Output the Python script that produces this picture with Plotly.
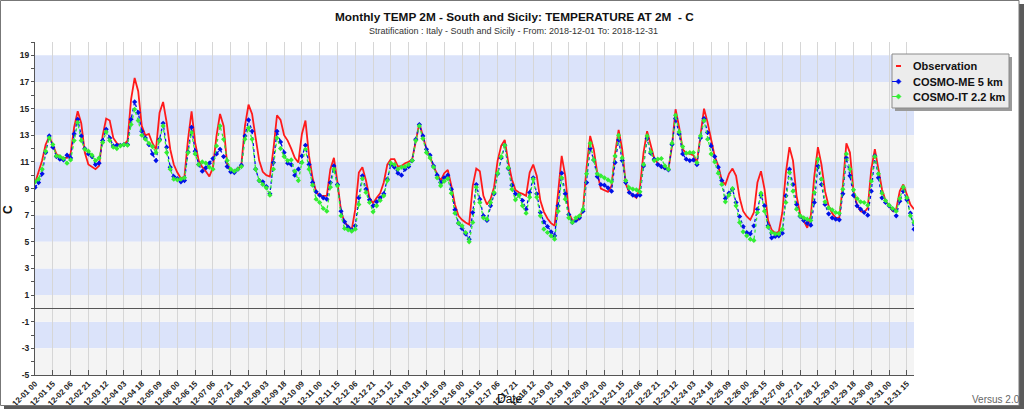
import pandas as pd
import plotly.graph_objects as go

# ---------------- data ----------------
start = "2018-12-01 00:00"
n_points = 248  # 3-hourly, whole December
times = pd.date_range(start, periods=n_points, freq="3h")

observation = [
    9.4, 10.2, 11.1, 12.3, 12.9, 12.3, 11.6, 11.4,
    11.3, 11.3, 11.6, 13.6, 14.8, 13.9, 11.7, 10.8,
    10.6, 10.45, 10.7, 12.95, 14.25, 14.1, 12.8, 12.4,
    12.25, 12.3, 12.6, 15.7, 17.3, 16.3, 13.7, 13.0,
    13.1, 12.4, 11.95, 14.7, 15.5, 13.95, 11.95, 10.8,
    10.2, 9.75, 9.9, 12.7, 14.8, 12.45, 11.1, 10.6,
    10.3, 9.9, 10.6, 12.95, 14.6, 13.7, 10.8, 10.3,
    10.3, 10.45, 10.8, 13.7, 15.3, 14.6, 12.8, 11.1,
    10.25, 10.0, 9.9, 11.95, 14.5, 14.15, 13.0, 12.6,
    12.0, 11.3, 10.95, 13.1, 14.1, 11.45, 9.8, 8.75,
    8.45, 8.45, 8.45, 10.45, 11.3, 9.45, 7.3, 6.45,
    6.15, 5.9, 7.45, 10.2, 10.6, 9.6, 8.3, 7.9,
    8.3, 8.65, 9.45, 10.8, 11.2, 11.2, 10.65, 10.7,
    10.9, 11.0, 11.2, 12.6, 13.9, 12.95, 11.95, 11.4,
    10.65, 10.1, 9.6, 10.15, 10.4, 9.2, 7.8, 6.95,
    6.65, 6.45, 6.3, 9.2, 10.5, 10.3, 8.45, 7.8,
    8.2, 9.1, 11.1, 12.2, 12.65, 10.95, 9.7, 8.9,
    8.7, 8.6, 8.45, 10.2, 10.8, 9.95, 8.1, 7.25,
    6.75, 6.4, 6.2, 8.7, 11.45, 9.95, 7.2, 6.6,
    6.6, 6.7, 7.5, 10.6, 12.95, 11.95, 10.15, 9.0,
    8.9, 8.75, 9.2, 11.6, 13.4, 11.95, 9.35, 8.7,
    8.5, 8.3, 9.1, 11.7, 13.3, 12.3, 11.25, 10.9,
    10.65, 10.45, 10.45, 12.2, 14.95, 13.6, 11.95, 11.65,
    11.6, 11.5, 10.95, 13.2, 15.0, 13.95, 12.6, 11.4,
    10.7, 9.6, 9.3, 10.1, 10.5, 9.95, 8.3, 7.3,
    6.9, 6.65, 7.2, 9.45, 10.3, 8.95, 6.6, 5.9,
    5.65, 5.75, 7.2, 10.2, 12.1, 11.1, 8.45, 7.1,
    6.6, 6.05, 6.95, 9.95, 12.1, 10.8, 8.8, 7.7,
    7.15, 6.8, 6.8, 9.2, 12.4, 11.7, 8.8, 7.8,
    7.3, 7.2, 7.55, 10.45, 11.95, 10.45, 8.95, 8.1,
    7.7, 7.3, 7.45, 8.8, 9.3, 8.5, 7.8, 7.45,
]

cosmo_me = [
    9.08, 9.45, 10.1, 11.7, 12.95, 12.1, 11.4, 11.2,
    11.15, 11.5, 11.3, 13.1, 14.2, 12.95, 12.0, 11.6,
    11.4, 10.8, 10.9, 12.6, 13.45, 12.8, 12.2, 12.25,
    12.25, 12.3, 12.3, 14.2, 15.5, 14.7, 13.3, 12.8,
    12.3, 11.6, 11.1, 12.7, 13.9, 12.1, 10.6, 9.9,
    9.75, 9.5, 9.6, 11.75, 13.6, 11.8, 10.8, 10.3,
    10.55, 10.9, 11.25, 11.6, 11.95, 11.4, 10.65, 10.25,
    10.2, 10.45, 10.75, 12.95, 14.15, 13.3, 10.45, 9.6,
    9.5, 9.15, 8.6, 10.95, 13.3, 12.5, 11.7, 10.9,
    10.8, 10.0, 10.45, 11.45, 12.25, 10.8, 9.45, 8.75,
    8.5, 8.3, 8.2, 9.45, 10.7, 9.3, 7.3, 6.5,
    6.1, 5.9, 6.2, 8.3, 9.95, 8.95, 8.15, 7.7,
    8.0, 8.3, 8.6, 9.7, 10.8, 10.6, 10.15, 10.0,
    10.45, 10.65, 11.1, 12.7, 13.8, 12.95, 11.95, 11.5,
    10.7, 10.0, 9.45, 9.8, 10.0, 8.95, 7.4, 6.4,
    6.0, 5.6, 5.2, 7.2, 9.3, 8.2, 6.95, 6.6,
    7.7, 8.6, 10.1, 11.3, 12.25, 10.5, 9.25, 8.6,
    8.5, 8.1, 7.45, 8.7, 9.8, 8.6, 7.2, 6.5,
    6.15, 5.75, 5.45, 7.7, 10.15, 8.6, 7.05, 6.45,
    6.6, 6.8, 7.3, 9.45, 12.0, 11.15, 9.9, 9.3,
    9.25, 9.05, 8.8, 10.95, 12.65, 11.1, 9.45, 8.7,
    8.5, 8.45, 8.5, 10.7, 12.75, 11.65, 11.2, 10.8,
    10.65, 10.55, 10.4, 12.3, 14.25, 13.1, 11.6, 11.2,
    11.1, 11.15, 10.8, 12.8, 14.25, 13.2, 12.2, 11.4,
    10.6, 9.6, 8.25, 8.65, 8.95, 7.95, 6.9, 6.15,
    5.7, 5.6, 6.2, 7.45, 8.5, 7.7, 6.2, 5.3,
    5.4, 5.45, 5.65, 8.45, 10.45, 9.3, 7.8, 6.9,
    6.6, 6.4, 6.25, 7.95, 10.7, 9.3, 7.8, 7.1,
    6.8, 6.7, 6.65, 8.6, 11.3, 9.95, 8.5, 7.7,
    7.45, 7.2, 7.0, 8.8, 11.45, 9.8, 8.3, 7.95,
    7.7, 7.45, 6.95, 8.05, 8.8, 8.15, 7.15, 5.95,
]

cosmo_it = [
    9.5, 9.7, 10.45, 11.8, 12.8, 12.3, 11.45, 11.4,
    11.25, 10.9, 11.15, 12.6, 13.95, 12.6, 11.95, 11.8,
    11.5, 11.1, 11.3, 12.45, 13.25, 12.6, 12.1, 12.0,
    12.2, 12.3, 12.25, 13.8, 14.95, 14.1, 13.0, 12.7,
    12.4, 12.15, 11.7, 12.6, 13.7, 11.7, 10.45, 9.7,
    9.65, 9.7, 9.8, 11.7, 13.2, 11.6, 10.8, 11.0,
    10.9, 10.6, 10.45, 12.2, 13.7, 12.7, 11.1, 10.45,
    10.3, 10.45, 10.65, 12.7, 13.55, 12.7, 10.45, 9.6,
    9.3, 9.05, 8.5, 10.45, 12.8, 12.0, 11.4, 11.1,
    11.15, 10.3, 9.6, 10.95, 11.95, 10.45, 9.25, 8.2,
    7.95, 7.5, 7.3, 9.1, 10.45, 9.2, 6.95, 6.0,
    5.9, 5.8, 5.95, 7.8, 9.75, 8.7, 7.95, 7.25,
    7.7, 8.1, 8.45, 9.6, 10.9, 10.8, 10.45, 10.6,
    10.65, 10.8, 11.1, 12.6, 13.7, 12.75, 11.7, 11.3,
    10.6, 9.8, 9.2, 9.55, 9.75, 8.65, 7.15, 6.4,
    6.2, 5.7, 5.0, 6.45, 9.1, 7.95, 6.8, 6.7,
    7.95, 8.7, 10.15, 11.4, 12.25, 10.55, 8.95, 8.15,
    8.5, 7.7, 7.15, 8.35, 9.7, 8.35, 6.95, 5.95,
    5.7, 5.45, 5.2, 7.3, 9.8, 8.2, 6.8, 6.45,
    6.8, 6.95, 7.45, 10.1, 12.4, 11.15, 10.1, 9.95,
    9.8, 9.65, 9.5, 11.45, 13.0, 11.3, 9.6, 9.05,
    8.95, 8.9, 8.75, 10.8, 12.95, 11.75, 11.1, 11.2,
    11.25, 10.7, 10.45, 12.4, 14.5, 13.25, 12.15, 11.65,
    11.7, 11.7, 10.95, 12.95, 14.1, 12.7, 11.6, 11.0,
    10.15, 9.3, 8.0, 8.5, 9.0, 7.7, 6.45, 5.75,
    5.45, 5.2, 5.1, 7.2, 8.65, 7.3, 6.1, 5.7,
    5.6, 5.6, 5.95, 7.95, 10.2, 8.8, 7.45, 6.95,
    6.8, 6.7, 6.6, 8.7, 11.2, 9.7, 8.0, 7.55,
    7.4, 7.2, 7.15, 8.95, 11.6, 10.45, 8.9, 8.25,
    8.0, 7.95, 7.75, 9.55, 11.4, 10.1, 8.65, 8.1,
    7.75, 7.5, 7.3, 8.25, 9.1, 8.3, 6.95, 6.45,
]

series_names = ["Observation", "COSMO-ME 5 km", "COSMO-IT 2.2 km"]
series_colors = ["#ff1a1a", "#0010e8", "#33ee33"]

y_tick_values = [-5, -3, -1, 1, 3, 5, 7, 9, 11, 13, 15, 17, 19]
y_tick_labels = [str(v) for v in y_tick_values]
tick_times = pd.date_range(start, times[-1], freq="15h")
tick_labels = [t.strftime("%m-%d %H") for t in tick_times]

blue_band_starts = [-3, 1, 5, 9, 13, 17]
gray_band_starts = [-5, -1, 3, 7, 11, 15]

# ---------------- geometry helpers ----------------
W, H = 1024, 409
L, R, T, B = 35, 110, 42, 34
PW, PH = W - L - R, H - T - B


def px(x):
    return (x - L) / PW


def py(y):
    return (H - B - y) / PH


FONT = "Liberation Sans Narrow, Arial Narrow, Liberation Sans, Arial, sans-serif"
FONT_STD = "Liberation Sans, Arial, sans-serif"

fig = go.Figure()

fig.add_trace(go.Scatter(
    x=times, y=observation, mode="lines", name=series_names[0],
    line=dict(color=series_colors[0], width=1.8), showlegend=False,
    hoverinfo="skip"))
fig.add_trace(go.Scatter(
    x=times, y=cosmo_me, mode="lines+markers", name=series_names[1],
    line=dict(color=series_colors[1], width=1.3, dash="dot"),
    marker=dict(symbol="diamond", size=4, color=series_colors[1]),
    showlegend=False, hoverinfo="skip"))
fig.add_trace(go.Scatter(
    x=times, y=cosmo_it, mode="lines+markers", name=series_names[2],
    line=dict(color=series_colors[2], width=1.3, dash="dot"),
    marker=dict(symbol="diamond", size=4, color=series_colors[2]),
    showlegend=False, hoverinfo="skip"))

shapes = []
for b in blue_band_starts:
    shapes.append(dict(type="rect", xref="paper", yref="y", x0=0, x1=1,
                       y0=b, y1=b + 2, fillcolor="#dbe3fa", line_width=0,
                       layer="below"))
for b in gray_band_starts:
    shapes.append(dict(type="rect", xref="paper", yref="y", x0=0, x1=1,
                       y0=b, y1=b + 2, fillcolor="#f4f4f4", line_width=0,
                       layer="below"))

# outer frame and drop shadow of the picture
shapes.append(dict(type="rect", xref="paper", yref="paper",
                   x0=px(1019), x1=px(1024), y0=py(409), y1=py(4),
                   fillcolor="#5a5a5a", line_width=0, layer="above"))
shapes.append(dict(type="rect", xref="paper", yref="paper",
                   x0=px(4), x1=px(1024), y0=py(409), y1=py(405.5),
                   fillcolor="#5a5a5a", line_width=0, layer="above"))
shapes.append(dict(type="rect", xref="paper", yref="paper",
                   x0=px(0.5), x1=px(1019), y0=py(405.5), y1=py(0.5),
                   fillcolor="rgba(0,0,0,0)", line=dict(color="#777", width=1),
                   layer="above"))

# legend box (manual)
lx0, lx1, ly0, ly1 = 892, 1009, 54, 108
shapes.append(dict(type="rect", xref="paper", yref="paper",
                   x0=px(lx0 + 3), x1=px(lx1 + 3), y0=py(ly1 + 3), y1=py(ly0 + 3),
                   fillcolor="#9a9a9a", line_width=0, layer="above"))
shapes.append(dict(type="rect", xref="paper", yref="paper",
                   x0=px(lx0), x1=px(lx1), y0=py(ly1), y1=py(ly0),
                   fillcolor="#ececec", line=dict(color="#8a8a8a", width=1),
                   layer="above"))
legend_rows = [66, 81.5, 96.5]
# red dash
shapes.append(dict(type="line", xref="paper", yref="paper",
                   x0=px(896), x1=px(901), y0=py(legend_rows[0]), y1=py(legend_rows[0]),
                   line=dict(color=series_colors[0], width=2), layer="above"))


def diamond(cx, cy, r, color):
    path = (f"M {px(cx)} {py(cy - r)} L {px(cx + r)} {py(cy)} "
            f"L {px(cx)} {py(cy + r)} L {px(cx - r)} {py(cy)} Z")
    return dict(type="path", xref="paper", yref="paper", path=path,
                fillcolor=color, line=dict(color=color, width=0.5), layer="above")


for row, col in zip(legend_rows[1:], series_colors[1:]):
    shapes.append(dict(type="line", xref="paper", yref="paper",
                       x0=px(892), x1=px(898), y0=py(row), y1=py(row),
                       line=dict(color=col, width=1), layer="above"))
    shapes.append(diamond(898.5, row, 2.6, col))

annotations = []
for row, name in zip(legend_rows, series_names):
    annotations.append(dict(xref="paper", yref="paper", x=px(911), y=py(row),
                            text=f"<b>{name}</b>", showarrow=False,
                            xanchor="left", yanchor="middle",
                            font=dict(family=FONT_STD, size=11, color="#111")))

annotations += [
    dict(xref="paper", yref="paper", x=px(514), y=py(17),
         text="<b>Monthly TEMP 2M - South and Sicily: TEMPERATURE AT 2M  - C</b>",
         showarrow=False, xanchor="center", yanchor="middle",
         font=dict(family=FONT, size=11.8, color="#111")),
    dict(xref="paper", yref="paper", x=px(513), y=py(31),
         text="Stratification : Italy - South and Sicily - From: 2018-12-01 To: 2018-12-31",
         showarrow=False, xanchor="center", yanchor="middle",
         font=dict(family=FONT, size=9, color="#333")),
    dict(xref="paper", yref="paper", x=px(8), y=py(210), text="<b>C</b>",
         showarrow=False, textangle=-90, xanchor="center", yanchor="middle",
         font=dict(family=FONT_STD, size=12, color="#111")),
    dict(xref="paper", yref="paper", x=px(510), y=py(399), text="Date",
         showarrow=False, xanchor="center", yanchor="middle",
         font=dict(family=FONT_STD, size=12, color="#111")),
    dict(xref="paper", yref="paper", x=px(996), y=py(399), text="Versus 2.0",
         showarrow=False, xanchor="center", yanchor="middle",
         font=dict(family=FONT_STD, size=10, color="#666")),
]

fig.update_layout(
    width=W, height=H,
    margin=dict(l=L, r=R, t=T, b=B, pad=0, autoexpand=False),
    paper_bgcolor="white", plot_bgcolor="white",
    shapes=shapes, annotations=annotations, showlegend=False,
    xaxis=dict(
        type="date", range=[times[0], times[-1]], automargin=False,
        tickvals=list(tick_times), ticktext=tick_labels, tickangle=-45,
        tickfont=dict(family=FONT_STD, size=8, color="#222", weight="bold"),
        showgrid=True, gridcolor="#d6d6d6", gridwidth=1,
        ticks="inside", ticklen=5, tickcolor="#555",
        showline=True, linecolor="#555", linewidth=1, zeroline=False,
    ),
    yaxis=dict(
        range=[-5, 20], automargin=False,
        tickvals=y_tick_values, ticktext=y_tick_labels,
        tickfont=dict(family=FONT_STD, size=8.5, color="#222", weight="bold"),
        showgrid=False, ticks="outside", ticklen=3, tickcolor="#555",
        minor=dict(tickvals=[v + 1 for v in y_tick_values], ticks="outside",
                   ticklen=3, tickcolor="#555", showgrid=False),
        showline=True, linecolor="#555", linewidth=1,
        zeroline=True, zerolinecolor="#555", zerolinewidth=1,
    ),
)

fig.write_html("out.html")
